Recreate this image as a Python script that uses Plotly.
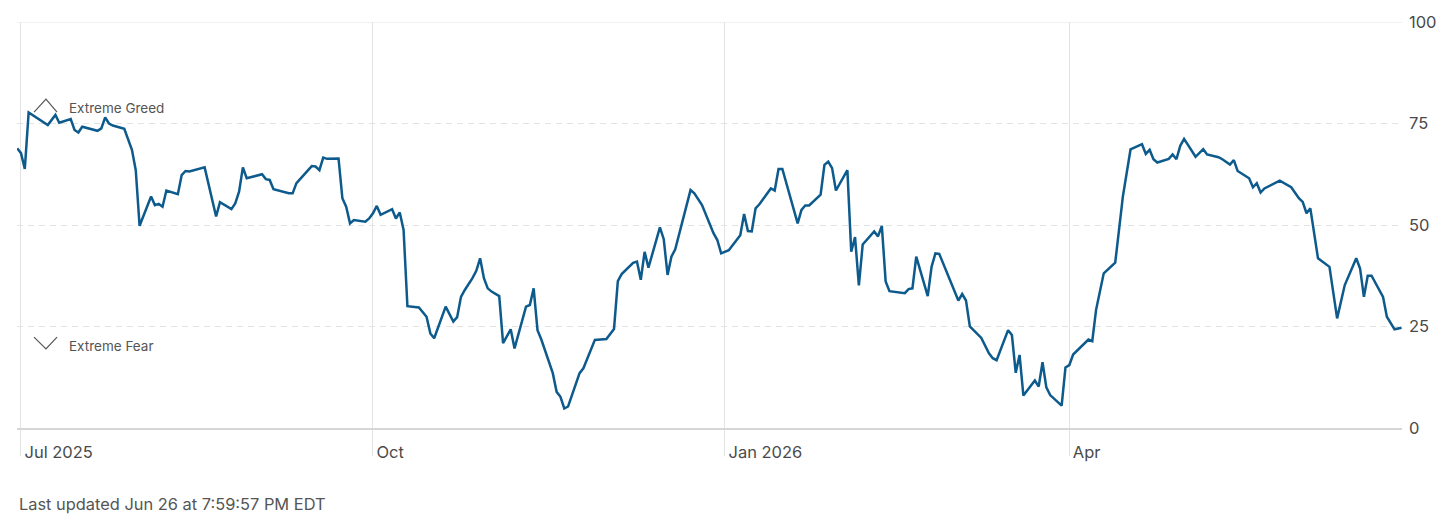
import plotly.graph_objects as go

dates = [
    "2025-06-30", "2025-07-01", "2025-07-02", "2025-07-03", "2025-07-08", "2025-07-10",
    "2025-07-11", "2025-07-14", "2025-07-15", "2025-07-16", "2025-07-17", "2025-07-21",
    "2025-07-22", "2025-07-23", "2025-07-24", "2025-07-25", "2025-07-28", "2025-07-30",
    "2025-07-31", "2025-08-01", "2025-08-04", "2025-08-05", "2025-08-06", "2025-08-07",
    "2025-08-08", "2025-08-11", "2025-08-12", "2025-08-13", "2025-08-14", "2025-08-18",
    "2025-08-21", "2025-08-22", "2025-08-25", "2025-08-26", "2025-08-27", "2025-08-28",
    "2025-08-29", "2025-09-02", "2025-09-03", "2025-09-04", "2025-09-05", "2025-09-09",
    "2025-09-10", "2025-09-11", "2025-09-15", "2025-09-16", "2025-09-17", "2025-09-18",
    "2025-09-19", "2025-09-22", "2025-09-23", "2025-09-24", "2025-09-25", "2025-09-26",
    "2025-09-29", "2025-09-30", "2025-10-01", "2025-10-02", "2025-10-03", "2025-10-06",
    "2025-10-07", "2025-10-08", "2025-10-09", "2025-10-10", "2025-10-13", "2025-10-14",
    "2025-10-15", "2025-10-16", "2025-10-17", "2025-10-20", "2025-10-22", "2025-10-23",
    "2025-10-24", "2025-10-25", "2025-10-27", "2025-10-28", "2025-10-29", "2025-10-30",
    "2025-10-31", "2025-11-01", "2025-11-03", "2025-11-04", "2025-11-05", "2025-11-06",
    "2025-11-07", "2025-11-10", "2025-11-11", "2025-11-12", "2025-11-13", "2025-11-14",
    "2025-11-17", "2025-11-18", "2025-11-19", "2025-11-20", "2025-11-21", "2025-11-24",
    "2025-11-25", "2025-11-28", "2025-12-01", "2025-12-03", "2025-12-04", "2025-12-05",
    "2025-12-08", "2025-12-09", "2025-12-10", "2025-12-11", "2025-12-12", "2025-12-15",
    "2025-12-16", "2025-12-17", "2025-12-18", "2025-12-19", "2025-12-23", "2025-12-24",
    "2025-12-26", "2025-12-29", "2025-12-30", "2025-12-31", "2026-01-02", "2026-01-05",
    "2026-01-06", "2026-01-07", "2026-01-08", "2026-01-09", "2026-01-10", "2026-01-13",
    "2026-01-14", "2026-01-15", "2026-01-16", "2026-01-20", "2026-01-21", "2026-01-22",
    "2026-01-23", "2026-01-26", "2026-01-27", "2026-01-28", "2026-01-29", "2026-01-30",
    "2026-02-02", "2026-02-03", "2026-02-04", "2026-02-05", "2026-02-06", "2026-02-09",
    "2026-02-10", "2026-02-11", "2026-02-12", "2026-02-13", "2026-02-17", "2026-02-18",
    "2026-02-19", "2026-02-20", "2026-02-23", "2026-02-24", "2026-02-25", "2026-02-26",
    "2026-03-03", "2026-03-04", "2026-03-05", "2026-03-06", "2026-03-09", "2026-03-11",
    "2026-03-12", "2026-03-13", "2026-03-16", "2026-03-17", "2026-03-18", "2026-03-19",
    "2026-03-20", "2026-03-23", "2026-03-24", "2026-03-25", "2026-03-26", "2026-03-27",
    "2026-03-30", "2026-03-31", "2026-04-01", "2026-04-02", "2026-04-06", "2026-04-07",
    "2026-04-08", "2026-04-10", "2026-04-13", "2026-04-15", "2026-04-17", "2026-04-20",
    "2026-04-21", "2026-04-22", "2026-04-23", "2026-04-24", "2026-04-27", "2026-04-28",
    "2026-04-29", "2026-04-30", "2026-05-01", "2026-05-04", "2026-05-06", "2026-05-07",
    "2026-05-10", "2026-05-11", "2026-05-13", "2026-05-14", "2026-05-15", "2026-05-18",
    "2026-05-19", "2026-05-20", "2026-05-21", "2026-05-22", "2026-05-26", "2026-05-27",
    "2026-05-29", "2026-05-31", "2026-06-01", "2026-06-02", "2026-06-03", "2026-06-05",
    "2026-06-08", "2026-06-10", "2026-06-12", "2026-06-15", "2026-06-16", "2026-06-17",
    "2026-06-18", "2026-06-19", "2026-06-22", "2026-06-23", "2026-06-25", "2026-06-26 19:59",
]

values = [
    68.9, 67.7, 63.8, 77.7, 74.6, 77.1,
    75.2, 76.1, 73.4, 72.8, 74.2, 73.2,
    73.8, 76.5, 75.0, 74.5, 73.7, 68.5,
    63.5, 49.8, 57.0, 54.9, 55.2, 54.5,
    58.5, 57.6, 62.3, 63.3, 63.2, 64.2,
    52.1, 55.6, 53.9, 55.3, 58.2, 64.2,
    61.5, 62.5, 61.3, 61.1, 58.8, 57.8,
    57.8, 60.3, 64.5, 64.4, 63.5, 66.6,
    66.3, 66.4, 56.6, 54.5, 50.4, 51.2,
    50.8, 51.6, 52.9, 54.7, 52.5, 53.9,
    51.6, 53.1, 48.8, 30.0, 29.7, 28.4,
    27.4, 23.3, 22.1, 29.9, 26.2, 27.3,
    32.3, 34.0, 36.9, 38.7, 41.8, 36.9,
    34.4, 33.6, 32.5, 20.9, 22.7, 24.3,
    19.6, 29.9, 30.3, 34.4, 24.1, 21.8,
    13.5, 8.9, 7.7, 4.8, 5.3, 13.5,
    14.7, 21.7, 21.9, 24.4, 36.2, 37.9,
    40.7, 41.0, 36.5, 43.4, 39.5, 49.4,
    46.5, 37.7, 42.2, 44.0, 58.6, 57.8,
    54.9, 48.0, 46.3, 43.0, 43.8, 47.5,
    52.7, 48.5, 48.4, 54.1, 55.1, 59.0,
    58.5, 63.8, 63.8, 50.4, 53.7, 54.8,
    54.8, 57.5, 64.8, 65.6, 64.0, 58.5,
    63.5, 43.4, 47.0, 35.1, 45.2, 48.4,
    47.2, 49.8, 36.1, 33.7, 33.2, 34.2,
    34.4, 42.2, 32.5, 39.7, 43.0, 42.9,
    31.4, 33.0, 31.4, 25.0, 22.2, 18.4,
    17.2, 16.7, 24.1, 22.9, 13.6, 18.0,
    8.0, 11.7, 10.2, 16.2, 10.0, 8.1,
    5.5, 14.9, 15.5, 18.1, 21.8, 21.4,
    29.1, 38.1, 40.7, 57.0, 68.6, 69.9,
    67.5, 68.5, 66.2, 65.4, 66.3, 67.4,
    66.2, 69.5, 71.2, 66.8, 68.7, 67.4,
    66.7, 66.2, 64.9, 66.0, 63.3, 61.5,
    59.3, 60.3, 58.0, 59.0, 60.9, 60.4,
    59.3, 56.6, 55.7, 52.9, 54.1, 41.8,
    39.7, 27.0, 35.2, 41.8, 39.3, 32.3,
    37.5, 37.5, 32.3, 27.4, 24.3, 24.7,
]

x_tick_vals = ["2025-07-01", "2025-10-01", "2026-01-01", "2026-04-01"]
x_tick_text = ["Jul 2025", "Oct", "Jan 2026", "Apr"]
y_tick_vals = [0, 25, 50, 75, 100]
y_tick_text = ["0", "25", "50", "75", "100"]

FONT = "Inter, Liberation Sans, Arial, sans-serif"
GRID = "#e3e3e3"
TXT = "#4a4a4a"

fig = go.Figure()
fig.add_trace(go.Scatter(
    x=dates, y=values, mode="lines",
    line=dict(color="#0d5a8c", width=2.5),
    hoverinfo="skip", showlegend=False,
))

fig.update_layout(
    width=1448, height=515,
    margin=dict(l=9, r=54, t=14, b=95, autoexpand=False),
    paper_bgcolor="white", plot_bgcolor="white",
    font=dict(family=FONT, color=TXT, size=16),
    xaxis=dict(
        type="date", automargin=False,
        range=["2025-06-29 23:00", "2026-06-26 23:00"],
        tickvals=x_tick_vals, ticktext=x_tick_text,
        showgrid=True, gridcolor=GRID, gridwidth=1,
        ticks="outside", ticklen=26, tickcolor=GRID, tickwidth=1,
        ticklabelposition="outside right",
        ticklabelshift=2, ticklabelstandoff=8,
        ticklabeloverflow="allow",
        tickfont=dict(size=16.5, color=TXT, family=FONT),
        showline=True, linecolor="#d6d6d6", linewidth=2,
        zeroline=False,
    ),
    yaxis=dict(
        range=[0, 100], side="right", automargin=False,
        tickvals=y_tick_vals, ticktext=y_tick_text,
        showgrid=True, gridcolor=GRID, gridwidth=1, griddash="6px,5px",
        ticks="", ticklabelstandoff=6,
        ticklabeloverflow="allow",
        tickfont=dict(size=16.5, color=TXT, family=FONT),
        zeroline=False, showline=False,
    ),
    shapes=[
        dict(type="line", xref="paper", yref="y", x0=0, x1=1, y0=100, y1=100,
             line=dict(color=GRID, width=1), layer="below"),
        dict(type="path", xref="paper", yref="y",
             path="M 0.0123 77.8 L 0.0209 81.0 L 0.0289 77.8",
             line=dict(color="#555555", width=1.2)),
        dict(type="path", xref="paper", yref="y",
             path="M 0.0123 22.4 L 0.0209 19.5 L 0.0289 22.4",
             line=dict(color="#555555", width=1.2)),
    ],
    annotations=[
        dict(text="Extreme Greed", xref="paper", yref="y", x=0.0361, y=78.8,
             xanchor="left", yanchor="middle", showarrow=False,
             font=dict(size=13.5, color="#555555", family=FONT)),
        dict(text="Extreme Fear", xref="paper", yref="y", x=0.0361, y=20.2,
             xanchor="left", yanchor="middle", showarrow=False,
             font=dict(size=13.5, color="#555555", family=FONT)),
        dict(text="Last updated Jun 26 at 7:59:57 PM EDT", xref="paper", yref="paper",
             x=0.0, y=-0.187, xanchor="left", yanchor="middle", showarrow=False,
             font=dict(size=16.4, color="#555555", family=FONT)),
    ],
)

fig.write_html("out.html")
